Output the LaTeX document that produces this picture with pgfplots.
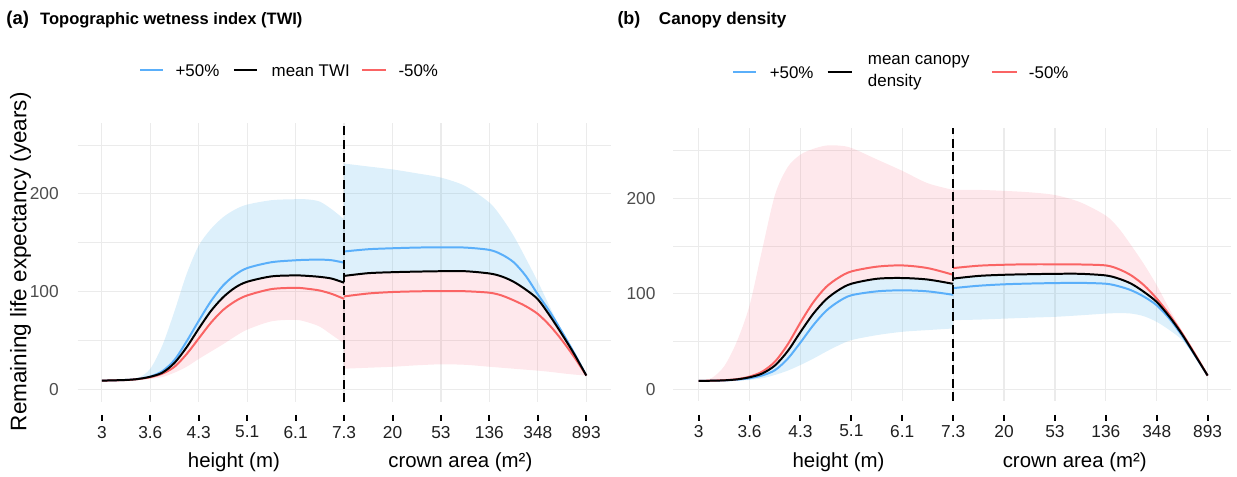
\documentclass[border=0pt]{standalone}
\usepackage{fontspec}
\setmainfont{Liberation Sans}
\usepackage{pgfplots}
\pgfplotsset{compat=1.18}
\usepackage{pgfplotstable}
\usepgfplotslibrary{fillbetween}
\definecolor{blueline}{RGB}{90,175,250}
\definecolor{redline}{RGB}{250,100,100}
\definecolor{bluefill}{RGB}{86,180,233}
\definecolor{pinkfill}{RGB}{248,118,140}
\definecolor{gridc}{RGB}{235,235,235}
\definecolor{grey30}{RGB}{77,77,77}

% panel (a), height part: x mean plus minus hi(upper blue ribbon) lo(lower pink ribbon)
\pgfplotstableread{
x mean plus minus hi lo
0 8.8 8.8 8.8 8.8 8.8
0.5 9.5 9.5 9.4 9.6 9.3
0.75 10.5 10.6 10.4 11.5 9.8
1 12.8 13 12.3 21 10.5
1.25 17 18.5 16 45 12.5
1.5 27 30 23 80 17
1.75 43 49 36 118 23
2 62 70 52 147 31
2.25 80 90 68 164 38.5
2.5 94 106 81 176 46
2.75 104 117 90 184 54
3 110 124 96 189 61
3.5 115.5 130 102.5 193.5 69.5
4 116.5 132 103.8 194.5 71
4.25 116 132.5 102.8 194.3 68.5
4.5 115 132.7 101 192 64
4.75 113.2 132 97.5 184 55.5
5 109 129.5 92.5 174 47
}\aL
\pgfplotstableread{
x mean plus minus hi lo
5 116 141 95 231 21
5.5 118.8 143.3 98 228 22
6 119.8 144.3 99.5 225 23
6.5 120.4 145 100.2 221 24.5
7 120.8 145.3 100.5 216.6 25.5
7.5 120.8 145 100.3 208 25
8 118.5 142.6 98.8 191 23
8.25 115.5 138 96 176 22
8.5 110 130 91 157 21
8.75 102 116 85 134 20
9 92 97 77 110 19
9.25 75 79 65 84 17.8
9.5 56 58.5 50 59 16.3
9.75 36 37 33 37 15
10 14 14 14 14 14
}\aR
% panel (b): hi = upper pink ribbon, lo = lower blue ribbon
\pgfplotstableread{
x mean plus minus hi lo
0 8.7 8.7 8.7 8.7 8.7
0.25 8.9 8.9 9.0 11.5 8.7
0.5 9.3 9.2 9.4 24 8.9
0.75 10.3 10 10.5 50 9.2
1 12.5 11.5 13.2 88 9.7
1.25 16.5 14.5 18.5 147 11.5
1.5 25 20 29 204 15
1.75 40 32 47 233 19.5
2 60 49 70 246 25.4
2.25 79 67 91 252 32
2.5 94 82 107 255.5 39.3
2.75 104 92 117 255.5 46
3 110.6 98.5 123.5 253 51.5
3.5 115.8 102.6 128.5 241 56.7
4 116.6 103.7 129.8 229 60.2
4.5 115 102.6 127 216 62
5 110.5 99 120 209 63.7
}\bL
\pgfplotstableread{
x mean plus minus hi lo
5 116 106 127 209 72.4
5.5 118.8 108.5 129.5 209 73
6 120 110 130.5 208 74
6.5 120.6 110.8 131 206.5 75
7 121 111.3 131 203.6 75.9
7.5 121 111.5 130.8 196 77.5
8 119.3 110.6 129.8 182 79.3
8.25 116 108 126 169 79.8
8.5 110.6 103.7 119.3 150.7 79.3
8.75 102 97 109 131 76.5
9 91.5 88 95 109 70.6
9.25 76 74 78 84 62
9.5 57.4 56 58.5 61 51.5
9.75 36 35.5 37 37.5 34
10 14.3 14.3 14.3 14.3 14.3
}\bR

\pgfplotsset{
  panel/.style={
    scale only axis, anchor=south west,
    xmin=-0.5,
    xtick={0,1,2,3,4,5,6,7,8,9,10},
    xticklabels={3,3.6,4.3,5.1,6.1,7.3,20,53,136,348,893},
    ytick={0,100,200}, yticklabels={0,100,200},
    minor ytick={50,150,250},
    xmajorgrids, ymajorgrids, yminorgrids,
    major grid style={gridc, line width=0.6pt},
    minor grid style={gridc, line width=0.35pt},
    axis line style={draw=none},
    tick align=outside, major tick length=3pt, minor tick length=0pt,
    xtick style={draw=none},
    ytick style={draw=none},
    clip=false,
    xticklabel style={font=\fontsize{8.7}{10}\selectfont, text=black!88, yshift=-5.5pt},
    yticklabel style={font=\fontsize{8.7}{10}\selectfont, text=grey30},
  },
  ln/.style={line width=1pt, smooth},
  bd/.style={draw=none, smooth},
  vl/.style={black, line width=0.9pt, dash pattern=on 4.5pt off 2.2pt},
  tk/.style={only marks, mark=|, mark size=1.6pt, black, mark options={black, line width=1pt, solid}},
}

\begin{document}
\begin{tikzpicture}
\path (0,0) rectangle (618.5pt,239.5pt);

% ---------------- panel (a)
\begin{axis}[panel, at={(39pt,37.5pt)}, width=267.7pt, height=140.4pt,
  xmax=10.5, ymin=-13.2, ymax=272.9,
  yticklabel style={xshift=-3pt}]
\addplot[bd, name path=aLhi] table[x=x,y=hi]{\aL};
\addplot[bd, name path=aLm] table[x=x,y=mean]{\aL};
\addplot[bd, name path=aLlo] table[x=x,y=lo]{\aL};
\addplot[bluefill, fill opacity=0.2, draw=none] fill between[of=aLhi and aLm];
\addplot[pinkfill, fill opacity=0.17, draw=none] fill between[of=aLm and aLlo];
\addplot[bd, name path=aRhi] table[x=x,y=hi]{\aR};
\addplot[bd, name path=aRm] table[x=x,y=mean]{\aR};
\addplot[bd, name path=aRlo] table[x=x,y=lo]{\aR};
\addplot[bluefill, fill opacity=0.2, draw=none] fill between[of=aRhi and aRm];
\addplot[pinkfill, fill opacity=0.17, draw=none] fill between[of=aRm and aRlo];
\addplot[ln, blueline] table[x=x,y=plus]{\aL};
\addplot[ln, blueline] table[x=x,y=plus]{\aR};
\addplot[ln, redline] table[x=x,y=minus]{\aL};
\addplot[ln, redline] table[x=x,y=minus]{\aR};
\addplot[ln, black] table[x=x,y=mean]{\aL};
\addplot[ln, black] table[x=x,y=mean]{\aR};
\addplot[vl] coordinates {(5,-13.2) (5,272.9)};
\addplot[tk] coordinates {(0,-29.5) (1,-29.5) (2,-29.5) (3,-29.5) (4,-29.5) (5,-29.5) (6,-29.5) (7,-29.5) (8,-29.5) (9,-29.5) (10,-29.5)};
\end{axis}

% ---------------- panel (b)
\begin{axis}[panel, at={(338.2pt,38pt)}, width=280.2pt, height=137pt,
  xmax=10.46, ymin=-12.5, ymax=273.5,
  yticklabel style={xshift=-2.4pt}]
\addplot[bd, name path=bLhi] table[x=x,y=hi]{\bL};
\addplot[bd, name path=bLm] table[x=x,y=mean]{\bL};
\addplot[bd, name path=bLlo] table[x=x,y=lo]{\bL};
\addplot[pinkfill, fill opacity=0.17, draw=none] fill between[of=bLhi and bLm];
\addplot[bluefill, fill opacity=0.2, draw=none] fill between[of=bLm and bLlo];
\addplot[bd, name path=bRhi] table[x=x,y=hi]{\bR};
\addplot[bd, name path=bRm] table[x=x,y=mean]{\bR};
\addplot[bd, name path=bRlo] table[x=x,y=lo]{\bR};
\addplot[pinkfill, fill opacity=0.17, draw=none] fill between[of=bRhi and bRm];
\addplot[bluefill, fill opacity=0.2, draw=none] fill between[of=bRm and bRlo];
\addplot[ln, blueline] table[x=x,y=plus]{\bL};
\addplot[ln, blueline] table[x=x,y=plus]{\bR};
\addplot[ln, redline] table[x=x,y=minus]{\bL};
\addplot[ln, redline] table[x=x,y=minus]{\bR};
\addplot[ln, black] table[x=x,y=mean]{\bL};
\addplot[ln, black] table[x=x,y=mean]{\bR};
\addplot[vl] coordinates {(5,-12.5) (5,273.5)};
\addplot[tk] coordinates {(0,-30.2) (1,-30.2) (2,-30.2) (3,-30.2) (4,-30.2) (5,-30.2) (6,-30.2) (7,-30.2) (8,-30.2) (9,-30.2) (10,-30.2)};
\end{axis}

% ---------------- titles
\node[anchor=base west, inner sep=0, font=\bfseries\fontsize{9.3}{11}\selectfont] at (3pt,227.25pt) {(a)};
\node[anchor=base west, inner sep=0, font=\bfseries\fontsize{8.3}{11}\selectfont] at (20pt,227.25pt) {Topographic wetness index (TWI)};
\node[anchor=base west, inner sep=0, font=\bfseries\fontsize{9}{11}\selectfont] at (310pt,227.25pt) {(b)};
\node[anchor=base west, inner sep=0, font=\bfseries\fontsize{8.6}{11}\selectfont] at (330.8pt,227.25pt) {Canopy density};

% ---------------- axis titles
\node[anchor=base, inner sep=0, font=\fontsize{10.25}{12}\selectfont] at (117.5pt,4.5pt) {height (m)};
\node[anchor=base, inner sep=0, font=\fontsize{10.25}{12}\selectfont] at (231.25pt,4.5pt) {crown area (m²)};
\node[anchor=base, inner sep=0, font=\fontsize{10.25}{12}\selectfont] at (421.25pt,4.5pt) {height (m)};
\node[anchor=base, inner sep=0, font=\fontsize{10.25}{12}\selectfont] at (539.9pt,4.5pt) {crown area (m²)};
\node[rotate=90, anchor=base, inner sep=0, font=\fontsize{11.3}{13}\selectfont] at (13.25pt,108pt) {Remaining life expectancy (years)};

% ---------------- legends
\begin{scope}[every node/.style={anchor=west, inner sep=0, font=\fontsize{8.5}{11.5}\selectfont}]
\draw[blueline, line width=1pt] (70.5pt,204.2pt) -- (82pt,204.2pt);
\node at (88pt,203.75pt) {+50\%};
\draw[black, line width=1pt] (117.5pt,204.2pt) -- (129pt,204.2pt);
\node at (136.3pt,203.75pt) {mean TWI};
\draw[redline, line width=1pt] (182pt,204.2pt) -- (194pt,204.2pt);
\node at (200pt,203.75pt) {-50\%};

\draw[blueline, line width=1pt] (368.3pt,203.2pt) -- (380pt,203.2pt);
\node at (386.5pt,203pt) {+50\%};
\draw[black, line width=1pt] (415.8pt,203.2pt) -- (428pt,203.2pt);
\node[align=left] at (435.8pt,203pt) {mean canopy\\density};
\draw[redline, line width=1pt] (498.3pt,203.2pt) -- (510.8pt,203.2pt);
\node at (516.7pt,203pt) {-50\%};
\end{scope}
\end{tikzpicture}
\end{document}
